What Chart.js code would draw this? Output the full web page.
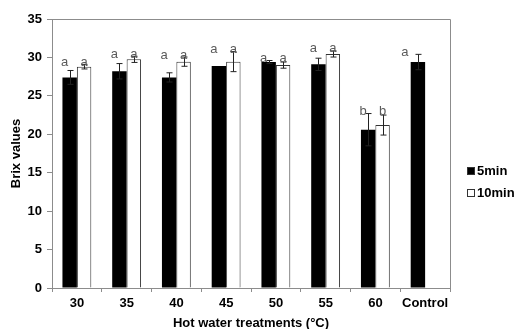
<!DOCTYPE html>
<html lang="en">
<head>
    <meta charset="UTF-8">
    <title>Brix values</title>
    <script src="https://cdn.jsdelivr.net/npm/chart.js"></script>
    <style>
        html, body { margin: 0; padding: 0; background: #fff; }
        #wrap { width: 515px; height: 329px; }
    </style>
</head>
<body>
    <div id="wrap"><canvas id="brixChart" width="515" height="329"></canvas></div>

    <script>
        // data
        const categories = ['30', '35', '40', '45', '50', '55', '60', 'Control'];
        const brix5 = [27.4, 28.2, 27.4, 28.9, 29.4, 29.1, 20.6, 29.4];
        const err5 = [0.9, 1.0, 0.6, 0.0, 0.2, 0.8, 2.1, 1.0];
        const brix10 = [28.8, 29.75, 29.45, 29.45, 29.0, 30.45, 21.2, null];
        const err10 = [0.3, 0.4, 0.6, 1.3, 0.4, 0.4, 1.3, null];
        const letters5 = ['a', 'a', 'a', 'a', 'a', 'a', 'b', 'a'];
        const letters10 = ['a', 'a', 'a', 'a', 'a', 'a', 'b', null];

        const errs = [err5, err10];
        const letterSets = [letters5, letters10];
        const axisGray = '#8c8c8c';
        const fontFamily = '"Liberation Sans", Arial, sans-serif';
        const boldFont = { family: fontFamily, size: 13, weight: 'bold' };

        // error bars, letters, frame and legend
        const extras = {
            id: 'extras',
            afterDatasetsDraw(chart) {
                const ctx = chart.ctx;
                const y = chart.scales.y;
                const area = chart.chartArea;

                ctx.save();
                ctx.strokeStyle = axisGray;
                ctx.lineWidth = 1;
                ctx.beginPath();
                ctx.moveTo(area.left, area.top + 0.5);
                ctx.lineTo(area.right + 0.5, area.top + 0.5);
                ctx.lineTo(area.right + 0.5, area.bottom);
                ctx.stroke();

                // error bars
                ctx.strokeStyle = '#222';
                chart.data.datasets.forEach((ds, di) => {
                    const meta = chart.getDatasetMeta(di);
                    meta.data.forEach((bar, i) => {
                        const v = ds.data[i];
                        const e = errs[di][i];
                        if (v == null || !e) return;
                        const x = Math.round(bar.x) + 0.5;
                        const yt = y.getPixelForValue(v + e);
                        const yb = y.getPixelForValue(v - e);
                        ctx.beginPath();
                        ctx.moveTo(x, yt); ctx.lineTo(x, yb);
                        ctx.moveTo(x - 3, yt); ctx.lineTo(x + 3, yt);
                        ctx.moveTo(x - 3, yb); ctx.lineTo(x + 3, yb);
                        ctx.stroke();
                    });
                });

                // letters
                ctx.fillStyle = '#5a5a5a';
                ctx.font = '13px ' + fontFamily;
                ctx.textAlign = 'center';
                ctx.textBaseline = 'alphabetic';
                categories.forEach((c, i) => {
                    let top = 0;
                    chart.data.datasets.forEach((ds, di) => {
                        const v = ds.data[i];
                        if (v != null) top = Math.max(top, v + (errs[di][i] || 0));
                    });
                    const ly = y.getPixelForValue(top) + 1.5;
                    const single = chart.data.datasets[1].data[i] == null;
                    chart.data.datasets.forEach((ds, di) => {
                        const t = letterSets[di][i];
                        if (!t) return;
                        const bar = chart.getDatasetMeta(di).data[i];
                        const dx = single ? -bar.width * 0.9 : (di === 0 ? -5 : 0);
                        ctx.fillText(t, bar.x + dx, ly);
                    });
                });

                // legend
                ctx.font = 'bold 13px ' + fontFamily;
                ctx.textAlign = 'left';
                ctx.textBaseline = 'middle';
                const lx = 467;
                chart.data.datasets.forEach((ds, di) => {
                    const ly2 = 171 + di * 22;
                    ctx.fillStyle = ds.backgroundColor;
                    ctx.fillRect(lx, ly2 - 4, 8, 8);
                    ctx.strokeStyle = '#333';
                    ctx.strokeRect(lx + 0.5, ly2 - 3.5, 7, 7);
                    ctx.fillStyle = '#000';
                    ctx.fillText(ds.label, lx + 10, ly2 + 0.5);
                });
                ctx.restore();
            }
        };

        new Chart(document.getElementById('brixChart'), {
            type: 'bar',
            data: {
                labels: categories,
                datasets: [{
                    label: '5min',
                    data: brix5,
                    backgroundColor: '#000000',
                    borderColor: '#000000',
                    borderWidth: 0
                }, {
                    label: '10min',
                    data: brix10,
                    backgroundColor: '#ffffff',
                    borderColor: '#333333',
                    borderWidth: 1
                }]
            },
            options: {
                responsive: false,
                animation: false,
                categoryPercentage: 0.58,
                barPercentage: 1.0,
                layout: { padding: { top: 19, right: 65, left: 0, bottom: 0 } },
                plugins: {
                    legend: { display: false },
                    tooltip: { enabled: false }
                },
                scales: {
                    x: {
                        offset: true,
                        grid: {
                            offset: true,
                            drawOnChartArea: false,
                            drawTicks: true,
                            tickLength: 4,
                            color: axisGray
                        },
                        border: { color: axisGray },
                        ticks: {
                            color: '#000',
                            font: boldFont,
                            padding: 4,
                            maxRotation: 0
                        },
                        title: {
                            display: true,
                            text: 'Hot water treatments (°C)',
                            color: '#000',
                            font: { family: fontFamily, size: 13, weight: 'bold', lineHeight: 0.9 },
                            padding: { top: 0, bottom: 0 }
                        },
                        afterFit: s => { s.height = 41; }
                    },
                    y: {
                        min: 0,
                        max: 35,
                        ticks: {
                            stepSize: 5,
                            color: '#000',
                            font: boldFont,
                            padding: 5
                        },
                        grid: {
                            drawOnChartArea: false,
                            drawTicks: true,
                            tickLength: 5,
                            color: axisGray
                        },
                        border: { color: axisGray },
                        title: {
                            display: true,
                            text: 'Brix values',
                            color: '#000',
                            font: boldFont,
                            padding: { top: 9, bottom: 0 }
                        },
                        afterFit: s => { s.width = 52; }
                    }
                }
            },
            plugins: [extras]
        });
    </script>
</body>
</html>
